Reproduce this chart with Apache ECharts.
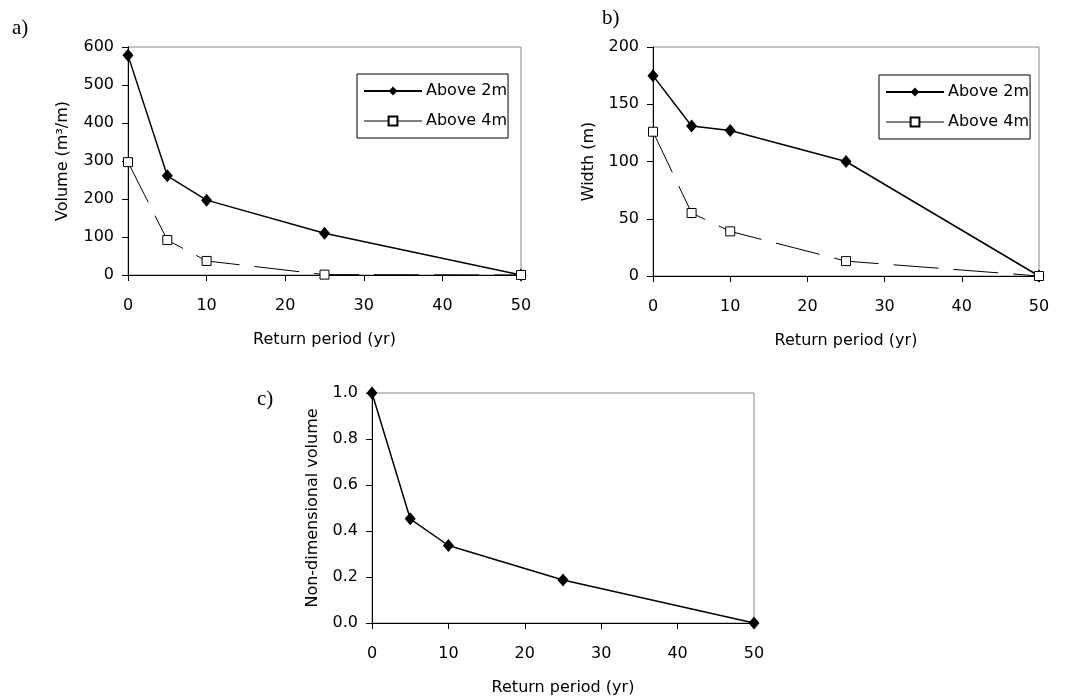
<!DOCTYPE html>
<html>
<head>
<meta charset="utf-8">
<script src="https://cdn.jsdelivr.net/npm/echarts@6/dist/echarts.min.js"></script>
<style>
  html, body { margin: 0; padding: 0; background: #fff; }
  #chart { width: 1077px; height: 697px; }
</style>
</head>
<body>
<div id="chart"></div>
<script>
// data
const returnPeriod = [0, 5, 10, 25, 50];
const volAbove2 = [578, 261, 197, 110, 0];
const volAbove4 = [297, 92, 37, 1, 0];
const widthAbove2 = [175, 131, 127, 100, 0];
const widthAbove4 = [126, 55, 39, 13, 0];
const nonDimVolume = [1.0, 0.453, 0.337, 0.187, 0];

const font = 'DejaVu Sans';
const pairs = vals => returnPeriod.map((x, i) => [x, vals[i]]);

function xAxisFor(idx) {
  return {
    type: 'value', gridIndex: idx, min: 0, max: 50, interval: 10,
    name: 'Return period (yr)', nameLocation: 'middle', nameGap: 57,
    nameTextStyle: { fontFamily: font, fontSize: 16, color: '#000' },
    axisLine: { show: true, onZero: false, lineStyle: { color: '#000', width: 1 } },
    axisTick: { show: true, length: 6, lineStyle: { color: '#000' } },
    axisLabel: { margin: 23, fontFamily: font, fontSize: 16, color: '#000' },
    splitLine: { show: false }
  };
}

function yAxisFor(idx, name, max, interval, gap, fmt) {
  return {
    type: 'value', gridIndex: idx, min: 0, max: max, interval: interval,
    name: name, nameLocation: 'middle', nameGap: gap,
    nameTextStyle: { fontFamily: font, fontSize: 16, color: '#000' },
    axisLine: { show: true, lineStyle: { color: '#000', width: 1 } },
    axisTick: { show: true, length: 6, lineStyle: { color: '#000' } },
    axisLabel: { margin: 14, fontFamily: font, fontSize: 16, color: '#000', formatter: fmt },
    splitLine: { show: false }
  };
}

const solidSeries = (name, vals, idx) => ({
  name: name, type: 'line', xAxisIndex: idx, yAxisIndex: idx,
  data: pairs(vals), clip: false,
  symbol: 'diamond', symbolSize: [11, 13],
  itemStyle: { color: '#000' },
  lineStyle: { color: '#000', width: 1.5 }
});

const dashSeries = (name, vals, idx) => ({
  name: name, type: 'line', xAxisIndex: idx, yAxisIndex: idx,
  data: pairs(vals), clip: false,
  symbol: 'rect', symbolSize: 9,
  itemStyle: { color: '#fff', borderColor: '#000', borderWidth: 1 },
  lineStyle: { color: '#000', width: 1, type: [45, 15] }
});

function legendAt(left, top) {
  return {
    orient: 'vertical', left: left, top: top,
    backgroundColor: '#fff', borderColor: '#000', borderWidth: 1,
    padding: [9, 1, 9, 6], itemWidth: 58, itemHeight: 11, itemGap: 14,
    textStyle: { fontFamily: font, fontSize: 16, color: '#000', padding: [0, 0, 0, -1] },
    selectedMode: false,
    data: [
      { name: 'Above 2m' },
      { name: 'Above 4m', lineStyle: { type: 'solid', width: 1 } }
    ]
  };
}

const panelLabel = (text, left, top) => ({
  text: text, left: left, top: top, padding: 0,
  textStyle: { fontFamily: 'Liberation Serif', fontSize: 21, fontWeight: 'normal', color: '#000' }
});

const chart = echarts.init(document.getElementById('chart'));
chart.setOption({
  backgroundColor: '#fff',
  animation: false,
  title: [
    panelLabel('a)', 12, 18),
    panelLabel('b)', 602, 8),
    panelLabel('c)', 257, 389)
  ],
  legend: [legendAt(357, 74), legendAt(879, 75)],
  grid: [
    { left: 128, top: 47, width: 393, height: 228, show: true, borderColor: '#888', borderWidth: 1 },
    { left: 653, top: 47, width: 386, height: 229, show: true, borderColor: '#888', borderWidth: 1 },
    { left: 372, top: 393, width: 382, height: 230, show: true, borderColor: '#888', borderWidth: 1 }
  ],
  xAxis: [xAxisFor(0), xAxisFor(1), xAxisFor(2)],
  yAxis: [
    yAxisFor(0, 'Volume (m³/m)', 600, 100, 57),
    yAxisFor(1, 'Width (m)', 200, 50, 56),
    yAxisFor(2, 'Non-dimensional volume', 1, 0.2, 51, v => v.toFixed(1))
  ],
  series: [
    solidSeries('Above 2m', volAbove2, 0),
    dashSeries('Above 4m', volAbove4, 0),
    solidSeries('Above 2m', widthAbove2, 1),
    dashSeries('Above 4m', widthAbove4, 1),
    solidSeries('Non-dimensional volume', nonDimVolume, 2)
  ]
});
</script>
</body>
</html>
